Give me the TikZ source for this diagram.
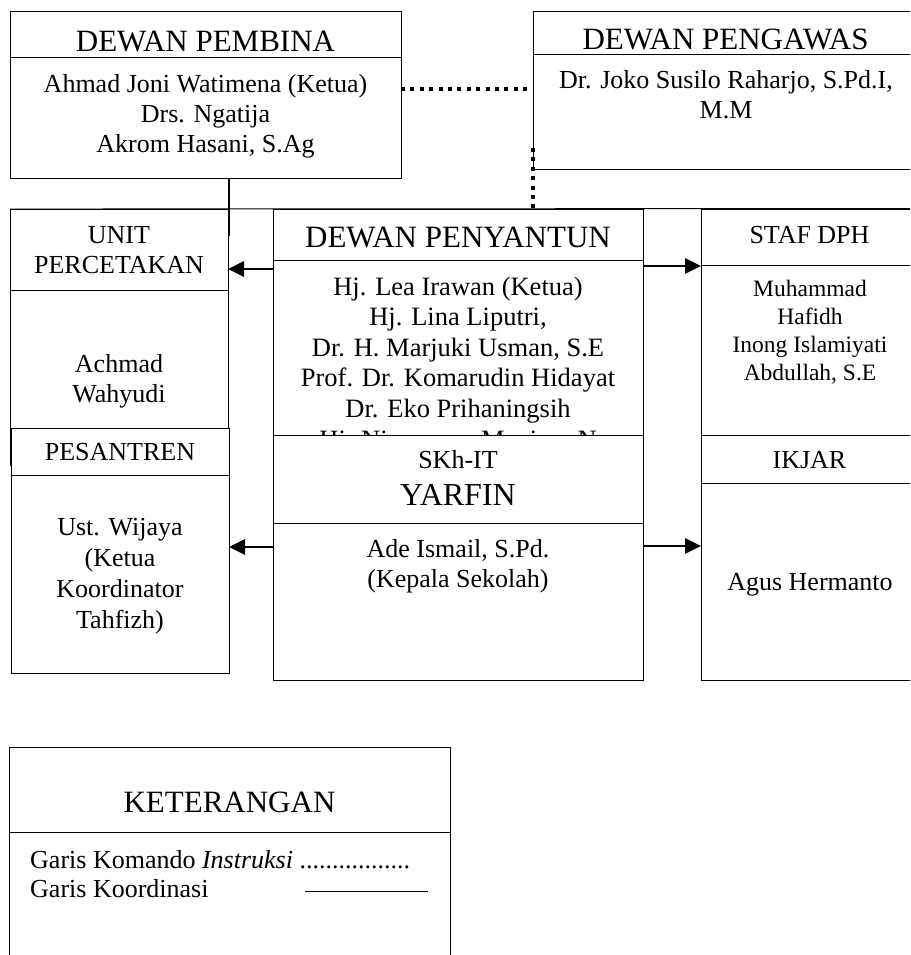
\documentclass[tikz,border=0pt]{standalone}
\usepackage{fontspec}
\setmainfont{Liberation Serif}
\usetikzlibrary{arrows.meta}
\begin{document}
\begin{tikzpicture}[x=1pt,y=-1pt,
  box/.style={draw=black, line width=0.9pt, fill=white, inner sep=0pt, outer sep=0pt, rectangle},
  divline/.style={draw=black, line width=0.9pt},
  ttl/.style={anchor=base, inner sep=0pt, font=\fontsize{31}{34}\selectfont},
  txt/.style={anchor=base, align=center, inner sep=0pt, font=\fontsize{26}{30}\selectfont},
  smalltxt/.style={anchor=base, align=center, inner sep=0pt, font=\fontsize{23.5}{27.7}\selectfont},
  lefttxt/.style={anchor=base west, inner sep=0pt, font=\fontsize{26}{29}\selectfont},
  thickline/.style={line width=2.6pt},
  arr/.style={line width=2.8pt, -{Triangle[length=16pt,width=15pt]}},
  dotline/.style={line width=4pt, dash pattern=on 4pt off 5.4pt}
]
\useasboundingbox (0,0) rectangle (910,955);
\clip (0,0) rectangle (910,955);

% multi-line nodes: anchor=base sits on the LAST line's baseline

% ---- top boxes ----
\node[box, minimum width=391pt, minimum height=167pt] (pembina) at (205.5,94.5) {};
\draw[divline] (pembina.west |- 0,57) -- (pembina.east |- 0,57);
\node[ttl] (tPembina) at (205.5,52) {DEWAN PEMBINA};
\node[txt] (bPembina) at (205.5,153) {Ahmad Joni Watimena (Ketua)\\Drs. Ngatija\\Akrom Hasani, S.Ag};

\node[box, minimum width=385pt, minimum height=158pt] (pengawas) at (725.5,90) {};
\draw[divline] (pengawas.west |- 0,54) -- (pengawas.east |- 0,54);
\node[ttl] (tPengawas) at (725.5,50) {DEWAN PENGAWAS};
\node[txt] (bPengawas) at (726,119) {Dr. Joko Susilo Raharjo, S.Pd.I,\\M.M};

% ---- upper row ----
\coordinate (frameR) at (915,208.5);
\node[box, minimum width=218pt, minimum height=256pt] (unit) at (119,337) {};
\draw[divline] (unit.west |- 0,290) -- (unit.east |- 0,290);
\node[txt] (tUnit) at (119,273) {UNIT\\PERCETAKAN};
\node[txt] (bUnit) at (119,402) {Achmad\\Wahyudi};

\node[box, minimum width=370pt, minimum height=256pt] (penyantun) at (458,337) {};
\draw[divline] (penyantun.west |- 0,260) -- (penyantun.east |- 0,260);
\node[ttl] (tPenyantun) at (458,247) {DEWAN PENYANTUN};
\node[txt, font=\fontsize{26.5}{30.6}\selectfont] (bPenyantun) at (458,448) {Hj. Lea Irawan (Ketua)\\Hj. Lina Liputri,\\Dr. H. Marjuki Usman, S.E\\Prof. Dr. Komarudin Hidayat\\Dr. Eko Prihaningsih\\Hj. Ninawarsa Maniarn N};

\node[box, minimum width=217pt, minimum height=226pt] (staf) at (809.5,322) {};
\draw[divline] (staf.west |- 0,265) -- (staf.east |- 0,265);
\node[txt] (tStaf) at (809.5,243) {STAF DPH};
\node[smalltxt] (bStaf) at (810,380) {Muhammad\\Hafidh\\Inong Islamiyati\\Abdullah, S.E};

\draw[divline] (unit.north west) -- (frameR);

% ---- lower row ----
\node[box, minimum width=218pt, minimum height=245pt] (pesantren) at (120,550.5) {};
\draw[divline] (pesantren.west |- 0,475) -- (pesantren.east |- 0,475);
\node[txt] (tPesantren) at (120,460) {PESANTREN};
\node[txt, font=\fontsize{26}{30.7}\selectfont] (bPesantren) at (120,628) {Ust. Wijaya\\(Ketua\\Koordinator\\Tahfizh)};

\node[box, minimum width=370pt, minimum height=245pt] (skh) at (458,557.5) {};
\draw[divline] (skh.west |- 0,523) -- (skh.east |- 0,523);
\node[txt] (tSkh) at (458,468) {SKh-IT};
\node[ttl, font=\fontsize{32}{34}\selectfont] (tYarfin) at (458,505) {YARFIN};
\node[txt] (bSkh) at (458,587) {Ade Ismail, S.Pd.\\(Kepala Sekolah)};

\node[box, minimum width=217pt, minimum height=245pt] (ikjar) at (809.5,557.5) {};
\draw[divline] (ikjar.west |- 0,483) -- (ikjar.east |- 0,483);
\node[txt] (tIkjar) at (809.5,468) {IKJAR};
\node[txt] (bIkjar) at (810,590) {Agus Hermanto};

% ---- connectors ----
\coordinate (vEnd) at (229,236);
\draw[thickline] (pembina.south -| vEnd) -- (vEnd);
\draw[dotline] (pembina.east |- 0,89) -- (pengawas.west |- 0,89);
\draw[dotline] (pengawas.west |- 0,148) -- (pengawas.west |- 0,208);

\draw[arr] (penyantun.west |- 0,269) -- (unit.east |- 0,269);
\draw[arr] (penyantun.east |- 0,266) -- (staf.west |- 0,266);
\draw[arr] (skh.west |- 0,547) -- (pesantren.east |- 0,547);
\draw[arr] (skh.east |- 0,546) -- (ikjar.west |- 0,546);

% ---- legend ----
\node[box, minimum width=441pt, minimum height=218pt] (ket) at (229.5,856) {};
\draw[divline] (ket.west |- 0,832) -- (ket.east |- 0,832);
\node[ttl] (tKet) at (229.5,812) {KETERANGAN};
\node[lefttxt] (lg1) at (30,868) {Garis Komando \textit{Instruksi} .................};
\node[lefttxt] (lg2) at (30,897) {Garis Koordinasi};
\coordinate (lA) at (305,891);
\coordinate (lB) at (428,891);
\draw[line width=0.9pt] (lA) -- (lB);
\end{tikzpicture}
\end{document}
